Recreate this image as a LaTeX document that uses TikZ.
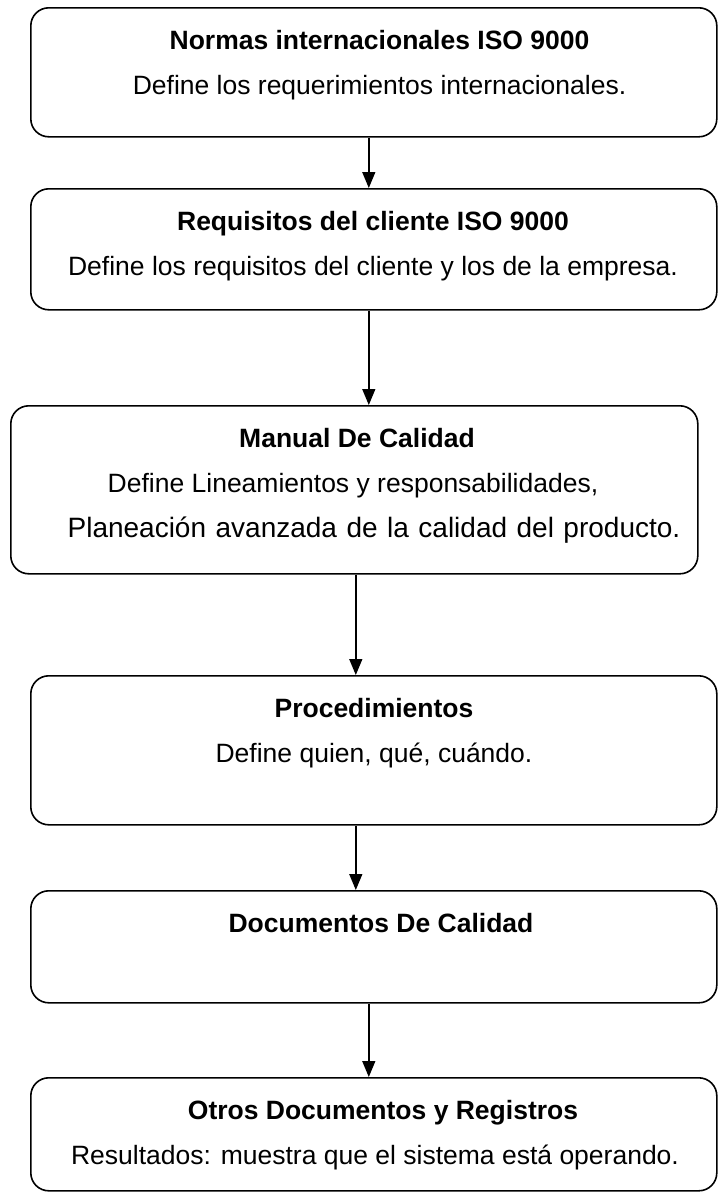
\documentclass[tikz,border=0pt]{standalone}
\usepackage{fontspec}
\setmainfont{Liberation Sans}
\usetikzlibrary{arrows.meta}
\begin{document}
\begin{tikzpicture}[x=1pt,y=-1pt,
  box/.style={draw, line width=1.6pt, rounded corners=18pt, anchor=north west, inner sep=0pt},
  ttl/.style={anchor=base, font=\fontsize{26.5}{30}\selectfont\bfseries, inner sep=0pt},
  txt/.style={anchor=base, font=\fontsize{26.5}{30}\selectfont, inner sep=0pt},
  arr/.style={line width=1.4pt, -{Triangle[width=13pt,length=16pt]}}]
\useasboundingbox (0,0) rectangle (718,1192);
% boxes
\node[box, minimum width=686pt, minimum height=129pt] (b1) at (30,7) {};
\node[box, minimum width=686pt, minimum height=121pt] (b2) at (30,188) {};
\node[box, minimum width=687pt, minimum height=168pt] (b3) at (10,405) {};
\node[box, minimum width=686pt, minimum height=149pt] (b4) at (30,675) {};
\node[box, minimum width=686pt, minimum height=112pt] (b5) at (30,890) {};
\node[box, minimum width=686pt, minimum height=113pt] (b6) at (30,1077) {};
% texts
\node[ttl] (t1) at (379.5,49) {Normas internacionales ISO 9000};
\node[txt] (s1) at (379.5,94) {Define los requerimientos internacionales.};
\node[ttl] (t2) at (373,230) {Requisitos del cliente ISO 9000};
\node[txt] (s2) at (373,275) {Define los requisitos del cliente y los de la empresa.};
\node[ttl] (t3) at (357,447) {Manual De Calidad};
\node[txt] (s3) at (353,492) {Define Lineamientos y responsabilidades,};
\node[txt, font=\fontsize{28}{32}\selectfont] (u3) at (374,537) {\spaceskip=9.5pt Planeación avanzada de la calidad del producto.};
\node[ttl] (t4) at (374,717) {Procedimientos};
\node[txt] (s4) at (374,762) {Define quien, qué, cuándo.};
\node[ttl] (t5) at (381,932) {Documentos De Calidad};
\node[ttl] (t6) at (383,1119) {Otros Documentos y Registros};
\node[txt] (s6) at (375,1164) {Resultados: muestra que el sistema está operando.};
% arrows
\draw[arr] ([xshift=-5pt]b1.south) -- ([xshift=-5pt]b2.north);
\draw[arr] ([xshift=-5pt]b2.south) -- ([xshift=14.5pt]b3.north);
\draw[arr] ([xshift=1.5pt]b3.south) -- ([xshift=-18pt]b4.north);
\draw[arr] ([xshift=-18pt]b4.south) -- ([xshift=-18pt]b5.north);
\draw[arr] ([xshift=-5pt]b5.south) -- ([xshift=-5pt]b6.north);
\end{tikzpicture}
\end{document}
